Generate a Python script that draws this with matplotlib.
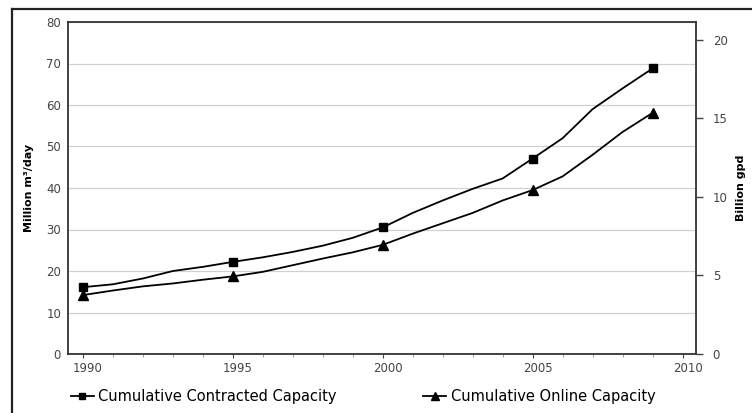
import numpy as np
import matplotlib.pyplot as plt
import matplotlib.transforms as mtransforms
from matplotlib.lines import Line2D

# values (million m3/day)
years = [1990, 1991, 1992, 1993, 1994, 1995, 1996, 1997, 1998, 1999,
         2000, 2001, 2002, 2003, 2004, 2005, 2006, 2007, 2008, 2009]
contracted = [16.1, 16.8, 18.2, 20.0, 21.0, 22.2, 23.3, 24.6, 26.1, 28.0,
              30.5, 34.0, 37.0, 39.8, 42.3, 47.1, 52.0, 59.0, 64.0, 68.8]
online = [14.2, 15.3, 16.3, 17.0, 17.9, 18.7, 19.8, 21.4, 23.0, 24.5,
          26.3, 29.0, 31.5, 34.0, 37.0, 39.5, 42.8, 48.0, 53.5, 58.1]
marker_years = [1990, 1995, 2000, 2005, 2009]
x_ticks = [1990, 1995, 2000, 2005, 2010]
left_ticks = [0, 10, 20, 30, 40, 50, 60, 70, 80]
right_ticks = [0, 5, 10, 15, 20]
gpd_per_m3 = 264.17 / 1000  # million m3/day -> billion gpd

plt.rcParams['font.family'] = 'DejaVu Sans'

fig = plt.figure(figsize=(7.52, 4.13), dpi=100)
ax = fig.add_axes([68 / 752, 1 - 354 / 413, 628 / 752, 332 / 413])

mark_idx = [years.index(y) for y in marker_years]
ax.plot(years, contracted, color='black', lw=1.3, marker='s', ms=5.5,
        markevery=mark_idx, label='Cumulative Contracted Capacity')
ax.plot(years, online, color='black', lw=1.3, marker='^', ms=6.5,
        markevery=mark_idx, label='Cumulative Online Capacity')

ax.set_xlim(1989.5, 2010.45)
ax.set_ylim(0, 80)
ax.set_xticks(x_ticks)
ax.set_xticks(range(1990, 2011), minor=True)
ax.set_yticks(left_ticks)
ax.grid(axis='y', color='#d0d0d0', lw=0.9)
ax.set_axisbelow(True)
for s in ax.spines.values():
    s.set_color('#333333')
    s.set_linewidth(1.3)

ax.tick_params(axis='y', length=0, pad=5, labelsize=8.5, colors='#444444')
ax.tick_params(axis='x', which='major', length=3, pad=3, labelsize=8.5,
               colors='#444444', direction='out')
ax.tick_params(axis='x', which='minor', length=2, direction='out', color='#888888')
# labels in the picture sit a little right of the year positions
offset = mtransforms.ScaledTranslation(5 / 100, 0, fig.dpi_scale_trans)
for lbl in ax.get_xticklabels():
    lbl.set_transform(lbl.get_transform() + offset)

ax.set_ylabel('Million m³/day', fontsize=8, fontweight='bold', labelpad=9)

ax2 = ax.twinx()
ax2.set_ylim(0, 80 * gpd_per_m3)
ax2.set_yticks(right_ticks)
ax2.tick_params(axis='y', length=5, width=1, pad=7, labelsize=8.5,
                colors='#444444', direction='out')
for s in ax2.spines.values():
    s.set_visible(False)
ax2.set_ylabel('Billion gpd', fontsize=8, fontweight='bold', rotation=90,
               labelpad=6)

fig.legend(loc='lower left', bbox_to_anchor=(62 / 752, 0.0), ncol=2,
           frameon=False, fontsize=10.5, handlelength=1.6, handletextpad=0.3,
           columnspacing=5.9, borderaxespad=0.2, markerscale=0.8)

# outer frame of the original figure
fig.add_artist(Line2D([12 / 752, 12 / 752], [0, 1 - 9 / 413], color='#222222', lw=1.6))
fig.add_artist(Line2D([12 / 752, 1], [1 - 9 / 413, 1 - 9 / 413], color='#222222', lw=1.6))

fig.savefig('out.png', dpi=100)
